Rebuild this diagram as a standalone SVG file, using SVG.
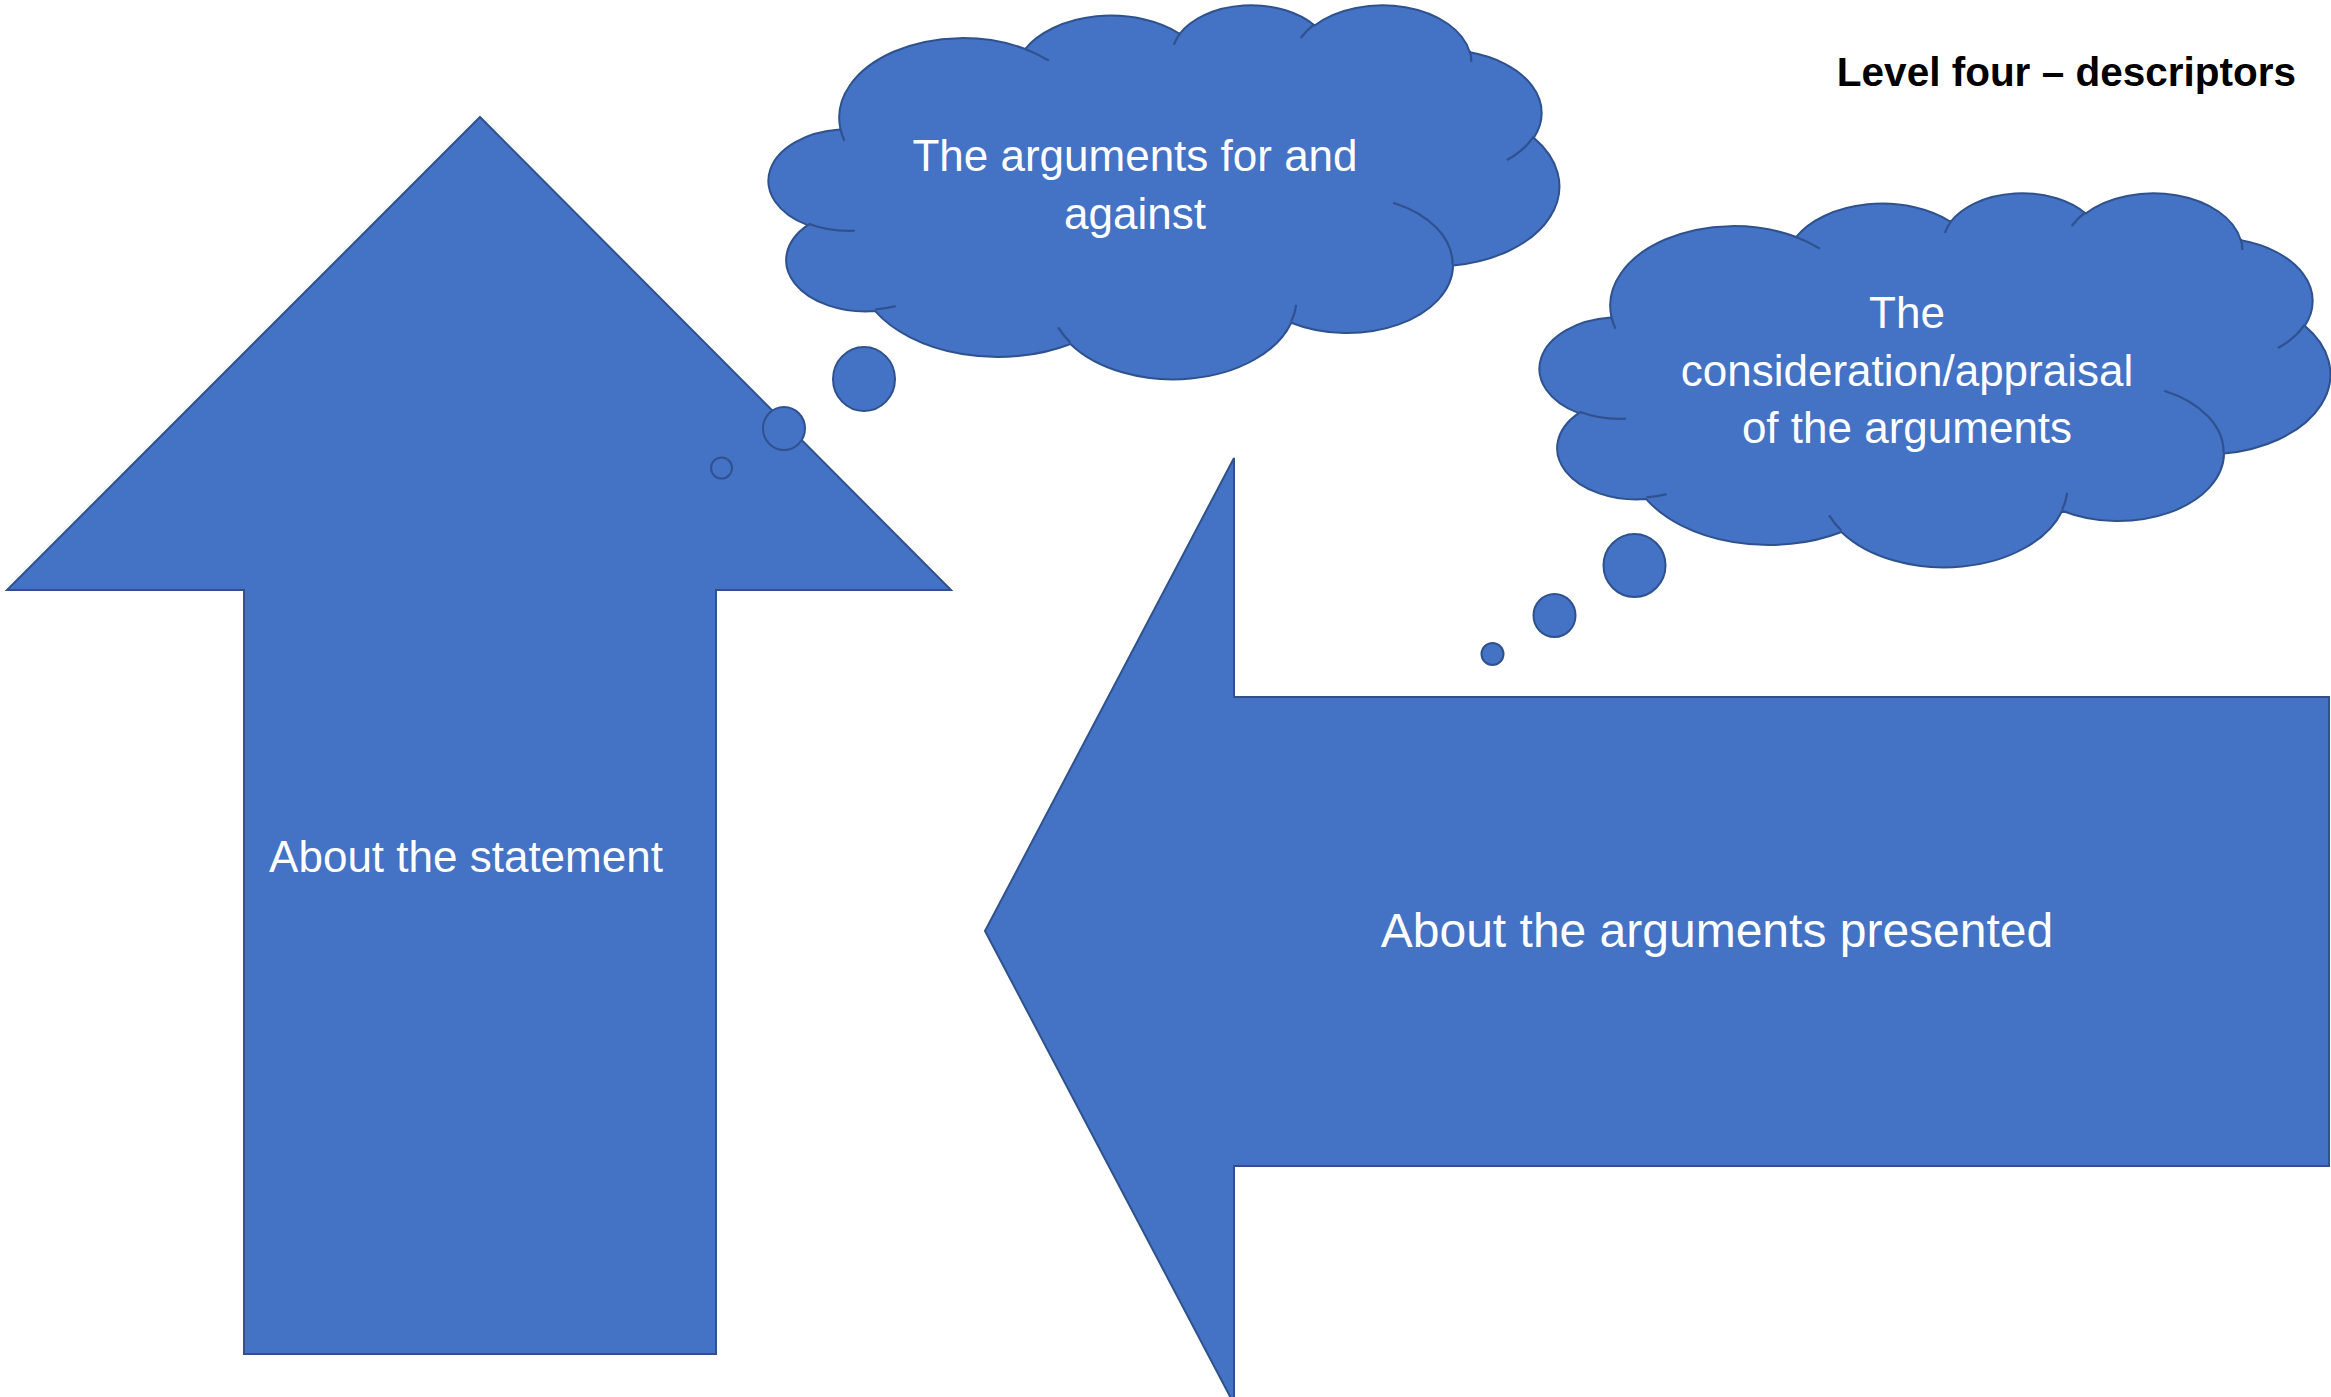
<svg xmlns="http://www.w3.org/2000/svg" xmlns:xlink="http://www.w3.org/1999/xlink" width="2331" height="1397" viewBox="0 0 2331 1397">
<style>
.shape{fill:#4472C4;stroke:#2F528F;stroke-width:2;stroke-linejoin:miter}
.ns{vector-effect:non-scaling-stroke}
.inner{fill:none;stroke:#2F528F;stroke-width:2.2}
.wt{fill:#FFFFFF;font-family:"Liberation Sans",Arial,sans-serif;text-anchor:middle}
.title{fill:#000000;font-family:"Liberation Sans",Arial,sans-serif;font-weight:bold;font-size:40.5px;text-anchor:end}
</style>
<defs>
<path id="cloudOutline" class="shape ns" d="M3900 14370 A6753 9190 0 0 1 14004 5201 A5333 7267 0 0 1 22457 3435 A4365 5945 0 0 1 29835 2486 A4857 6595 0 0 1 38320 5581 A5333 7273 0 0 1 41821 15465 A6775 9220 0 0 1 37406 30207 A5785 7867 0 0 1 28557 36817 A6752 9215 0 0 1 16482 39267 A7720 10543 0 0 1 5806 35471 A4360 5918 0 0 1 2116 25547 A4345 5945 0 0 1 3866 14503 Z"/>
<path id="cloudInner" class="inner ns" d="M4693 26177 A4345 5945 0 0 1 2160 25380 M6928 34899 A4360 5918 0 0 1 5820 35281 M16478 39090 A6752 9215 0 0 1 15810 37350 M28827 34751 A6752 9215 0 0 1 28560 36661 M34129 22954 A5785 7867 0 0 1 37380 30089 M41798 15354 A5333 7273 0 0 1 40351 18029 M38324 5426 A4857 6595 0 0 1 38400 6688 M29078 3952 A4857 6595 0 0 1 29820 2341 M22141 4720 A4365 5945 0 0 1 22500 3330 M14000 5192 A6753 9190 0 0 1 15303 6544 M4127 15789 A6753 9190 0 0 1 3900 14370"/>
</defs>

<g id="arrow-up">
<polygon class="shape" points="480,117 951,590 716,590 716,1354 244,1354 244,590 7,590"/>
<text class="wt" x="466" y="872" font-size="44">About the statement</text>
</g>

<g id="arrow-left">
<polygon class="shape" points="985,931 1234,458 1234,697 2329,697 2329,1166 1234,1166 1234,1404"/>
<text class="wt" x="1717" y="947" font-size="48">About the arguments presented</text>
</g>

<g id="cloud-1">
<ellipse class="shape" cx="721.5" cy="468" rx="10.5" ry="10.5"/>
<ellipse class="shape" cx="784" cy="428.5" rx="21" ry="21.5"/>
<ellipse class="shape" cx="864" cy="379" rx="31" ry="32"/>
<g transform="translate(769,4) scale(0.018287,0.0086574)">
<use xlink:href="#cloudOutline"/>
<use xlink:href="#cloudInner"/>
</g>
<text class="wt" font-size="44"><tspan x="1135" y="171">The arguments for and</tspan><tspan x="1135" y="229">against</tspan></text>
</g>

<g id="cloud-2">
<ellipse class="shape" cx="1492.5" cy="654" rx="11" ry="11"/>
<ellipse class="shape" cx="1554.5" cy="615.5" rx="21" ry="21.5"/>
<ellipse class="shape" cx="1634.5" cy="565.5" rx="31" ry="31.5"/>
<g transform="translate(1540,192) scale(0.018287,0.0086574)">
<use xlink:href="#cloudOutline"/>
<use xlink:href="#cloudInner"/>
</g>
<text class="wt" font-size="44"><tspan x="1907" y="328">The</tspan><tspan x="1907" y="385.5">consideration/appraisal</tspan><tspan x="1907" y="443">of the arguments</tspan></text>
</g>

<g id="connectors"></g>

<g id="title">
<text class="title" x="2296" y="86">Level four – descriptors</text>
</g>
</svg>
